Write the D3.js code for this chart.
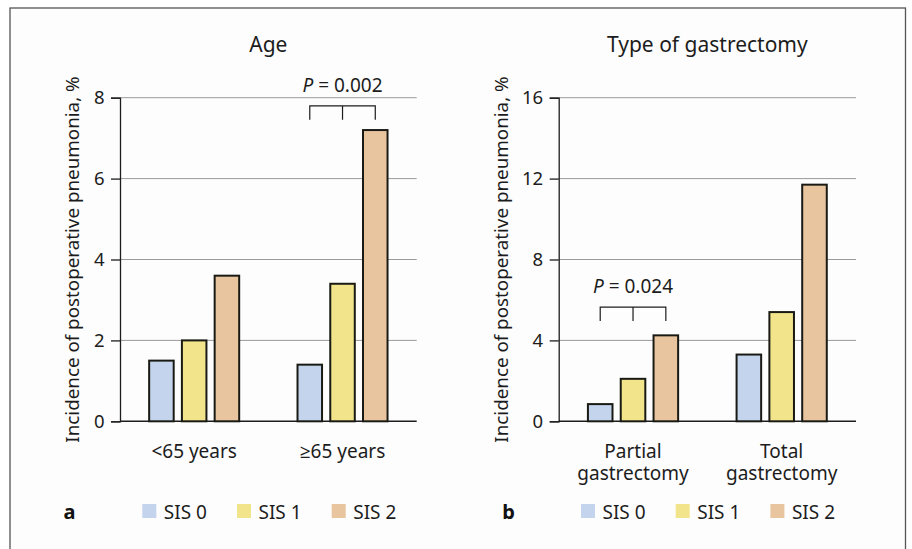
<!DOCTYPE html>
<html>
<head>
<meta charset="utf-8">
<script src="https://cdn.jsdelivr.net/npm/d3@7"></script>
<style>
  body { margin: 0; background: #fff; }
  svg { display: block; font-family: "Noto Sans", "Open Sans", sans-serif; }
</style>
</head>
<body>
<div id="chart"></div>
<script>
// data
const series = ["SIS 0", "SIS 1", "SIS 2"];
const seriesColors = ["#c3d4ec", "#f2e48b", "#e8c59f"];

const ageGroups = ["<65 years", "≥65 years"];
const ageValues = [[1.5, 2.0, 3.6], [1.4, 3.4, 7.2]];
const ageTicks = [0, 2, 4, 6, 8];

const typeGroups = [["Partial", "gastrectomy"], ["Total", "gastrectomy"]];
const typeValues = [[0.85, 2.1, 4.25], [3.3, 5.4, 11.7]];
const typeTicks = [0, 4, 8, 12, 16];

const pLabels = ["0.002", "0.024"];
const pGroups = [1, 0];
const pLevels = [7.8, 5.65];

const W = 912, H = 549;
const svg = d3.select("#chart").append("svg").attr("width", W).attr("height", H);

// page frame
svg.append("rect")
  .attr("x", 10).attr("y", 8).attr("width", 895.5).attr("height", H + 10)
  .attr("fill", "#fdfdfd").attr("stroke", "#555").attr("stroke-width", 1.3);

const yTop = 97.7, yBottom = 421.3;
const ink = "#1c1c1c";

const panels = [
  { x0: 120, x1: 416.7, title: "Age", groups: ageGroups, values: ageValues, ticks: ageTicks, letter: "a", labelOff: 48, p: 0 },
  { x0: 558.7, x1: 856, title: "Type of gastrectomy", groups: typeGroups, values: typeValues, ticks: typeTicks, letter: "b", labelOff: 57.5, p: 1 }
];

panels.forEach(pn => {
  const g = svg.append("g");
  const ymax = d3.max(pn.ticks);
  const y = d3.scaleLinear().domain([0, ymax]).range([yBottom, yTop]);
  const x = d3.scaleBand().domain(d3.range(pn.groups.length)).range([pn.x0, pn.x1]).padding(0);
  const xs = d3.scaleBand().domain(series).range([0, x.bandwidth()]).paddingInner(0.19).paddingOuter(0.86);

  // gridlines
  g.append("g").selectAll("line").data(pn.ticks.filter(t => t > 0)).join("line")
    .attr("x1", pn.x0).attr("x2", pn.x1)
    .attr("y1", d => y(d)).attr("y2", d => y(d))
    .attr("stroke", "#9a9a9a").attr("stroke-width", 1);

  // y axis
  const ax = g.append("g").attr("transform", `translate(${pn.x0},0)`)
    .call(d3.axisLeft(y).tickValues(pn.ticks).tickSize(9).tickPadding(6.5));
  ax.select(".domain").attr("stroke", ink).attr("stroke-width", 1.3);
  ax.selectAll(".tick line").attr("stroke", ink).attr("stroke-width", 1.3);
  ax.selectAll(".tick text").attr("font-size", 18.5).attr("fill", ink)
    .style("font-family", "'Noto Sans', sans-serif");

  // baseline
  g.append("line").attr("x1", pn.x0).attr("x2", pn.x1)
    .attr("y1", y(0)).attr("y2", y(0)).attr("stroke", ink).attr("stroke-width", 1.5);

  // bars
  const grp = g.append("g").selectAll("g").data(pn.values).join("g")
    .attr("transform", (d, i) => `translate(${x(i)},0)`);
  grp.selectAll("rect").data(d => d.map((v, k) => ({ v, k }))).join("rect")
    .attr("x", d => xs(series[d.k]) + 1)
    .attr("width", xs.bandwidth() - 2)
    .attr("y", d => y(d.v))
    .attr("height", d => y(0) - y(d.v))
    .attr("fill", d => seriesColors[d.k])
    .attr("stroke", "#1a1a14").attr("stroke-width", 2);

  // x labels
  pn.groups.forEach((lab, i) => {
    const lines = Array.isArray(lab) ? lab : [lab];
    lines.forEach((l, j) => g.append("text")
      .attr("x", x(i) + x.bandwidth() / 2).attr("y", yBottom + 37 + j * 21.7)
      .attr("text-anchor", "middle").attr("font-size", 19).attr("fill", ink).text(l));
  });

  // title
  g.append("text").attr("x", (pn.x0 + pn.x1) / 2).attr("y", 51.5)
    .attr("text-anchor", "middle").attr("font-size", 21).attr("fill", ink).text(pn.title);

  // y label
  g.append("text")
    .attr("transform", `translate(${pn.x0 - pn.labelOff},${(yTop + yBottom) / 2}) rotate(-90)`)
    .attr("dy", "0.35em")
    .attr("text-anchor", "middle").attr("font-size", 18.8).attr("fill", ink)
    .text("Incidence of postoperative pneumonia, %");

  // significance bracket
  const gi = pGroups[pn.p];
  const cx = k => x(gi) + xs(series[k]) + xs.bandwidth() / 2;
  const by = y(pLevels[pn.p]);
  const br = d3.path();
  br.moveTo(cx(0), by + 14); br.lineTo(cx(0), by); br.lineTo(cx(2), by); br.lineTo(cx(2), by + 14);
  br.moveTo(cx(1), by); br.lineTo(cx(1), by + 14);
  g.append("path").attr("d", br.toString()).attr("fill", "none")
    .attr("stroke", ink).attr("stroke-width", 1.2);
  const pt = g.append("text").attr("x", cx(1)).attr("y", by - 14)
    .attr("text-anchor", "middle").attr("font-size", 19).attr("fill", ink);
  pt.append("tspan").attr("font-style", "italic").text("P");
  pt.append("tspan").text(" = " + pLabels[pn.p]);

  // panel letter
  g.append("text").attr("x", pn.x0 - 56.5).attr("y", 518.5)
    .attr("font-size", 20).attr("font-weight", "bold").attr("fill", "#111").text(pn.letter);

  // legend
  const lg = g.append("g").selectAll("g").data(series).join("g")
    .attr("transform", (d, i) => `translate(${pn.x0 + 22.3 + i * 94.7},504)`);
  lg.append("rect").attr("width", 14).attr("height", 14).attr("fill", (d, i) => seriesColors[i]);
  lg.append("text").attr("x", 21.5).attr("y", 14.5)
    .attr("font-size", 19).attr("fill", ink).text(d => d);
});
</script>
</body>
</html>
